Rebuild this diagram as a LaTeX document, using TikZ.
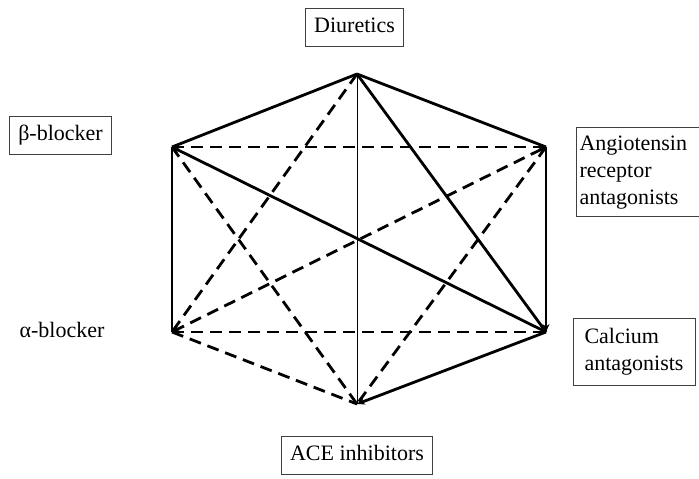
\documentclass[tikz,border=0pt]{standalone}
\usepackage{fontspec}
\setmainfont{Liberation Serif}
\usetikzlibrary{arrows.meta}
\begin{document}
\begin{tikzpicture}[x=1pt,y=-1pt,
  lbl/.style={font=\fontsize{22}{27}\selectfont, inner xsep=9pt, inner ysep=9pt},
  one/.style={text height=15pt, text depth=5pt},
  boxed/.style={lbl, draw=black!75, line width=1pt},
  solidline/.style={line width=2.8pt},
  dashline/.style={line width=2.8pt, dash pattern=on 12pt off 7pt},
  tip/.style={-{Stealth[length=8pt,width=7pt]}},
  tips/.style={{Stealth[length=8pt,width=7pt]}-{Stealth[length=8pt,width=7pt]}}]
\useasboundingbox (0,0) rectangle (699,479);
\clip (0,0) rectangle (699,479);
% vertices
\coordinate (T) at (357,74);
\coordinate (UL) at (172,147);
\coordinate (UR) at (546,147);
\coordinate (LL) at (172,332);
\coordinate (LR) at (546,332);
\coordinate (B) at (357,404);
% labels
\node[boxed, one] (diu) at (354.5,27) {Diuretics};
\node[boxed, one] (beta) at (60.5,135) {β-blocker};
\node[lbl, one] (alpha) at (62,332) {α-blocker};
\node[boxed, anchor=north west, align=left, text width=130pt, inner xsep=3pt, inner ysep=8pt] (ang) at (576,127) {Angiotensin\\receptor\\antagonists};
\node[boxed, anchor=north west, align=left, text width=100pt, inner xsep=11pt, inner ysep=10pt] (cal) at (573,318) {Calcium\\antagonists};
\node[boxed, one] (ace) at (357,455) {ACE inhibitors};
% thin vertical
\draw[line width=1pt] (T) -- (B);
% dashed
\draw[dashline] (UL) -- (UR);
\draw[dashline] (LL) -- (LR);
\draw[dashline] (LL) -- (B);
\draw[dashline] (T) -- (LL);
\draw[dashline] (UL) -- (B);
\draw[dashline] (UR) -- (B);
\draw[dashline, tips] (UR) -- (LL);
% solid
\draw[solidline] (T) -- (UL);
\draw[solidline] (T) -- (UR);
\draw[solidline] (UL) -- (LL);
\draw[solidline, tip] (UR) -- (LR);
\draw[solidline, tip] (LR) -- (B);
\draw[solidline] (T) -- (LR);
\draw[solidline, tip] (LR) -- (UL);
\end{tikzpicture}
\end{document}
